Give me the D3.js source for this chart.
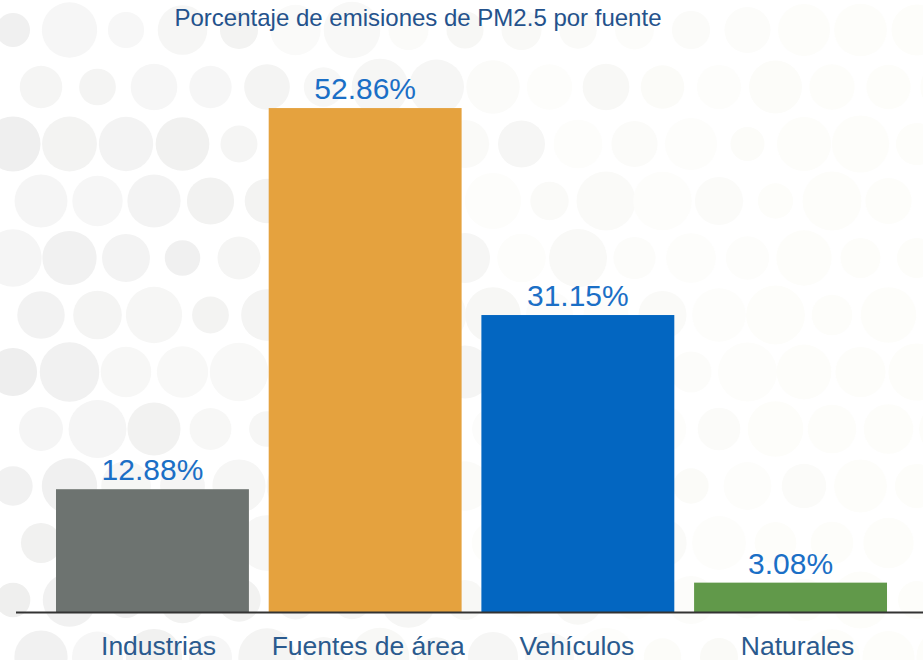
<!DOCTYPE html>
<html>
<head>
<meta charset="utf-8">
<script src="https://cdn.jsdelivr.net/npm/d3@7"></script>
<style>
  body { margin: 0; background: #ffffff; }
  svg { display: block; font-family: "Liberation Sans", Arial, sans-serif; }
</style>
</head>
<body>
<svg id="chart" width="923" height="660"></svg>
<script>
// data
const categories = ["Industrias", "Fuentes de área", "Vehículos", "Naturales"];
const values = [12.88, 52.86, 31.15, 3.08];
const valueLabels = ["12.88%", "52.86%", "31.15%", "3.08%"];
const barColors = ["#6d7370", "#e5a23e", "#0366c1", "#61994a"];
const title = "Porcentaje de emisiones de PM2.5 por fuente";

// small horizontal nudges of the category labels, as in the original
const labelNudge = [6, 3, -1, 7];

const width = 923, height = 660;
const svg = d3.select("#chart");

// background dots (decoration only)
function hash(i, j) {
    let s = Math.sin(i * 127.1 + j * 311.7) * 43758.5453;
    return s - Math.floor(s);
}
let dots = [];
for (let r = 0; r < 12; r++) {
    for (let c = 0; c < 18; c++) {
        let cx = 13 + c * 56.5 + (r % 2 ? 28 : 0);
        let cy = 30 + r * 57;
        dots.push({cx: cx, cy: cy, h: hash(r, c), h2: hash(c + 3, r + 7)});
    }
}
svg.append("g")
    .selectAll("circle")
    .data(dots)
    .join("circle")
    .attr("cx", d => d.cx)
    .attr("cy", d => d.cy)
    .attr("r", d => 17 + d.h * 13)
    .attr("fill", function (d) {
        let t = d.cx / width;
        let g = Math.min(253, 237 + t * 16 + d.h2 * 8);
        let b = Math.min(251, g - t * 3);
        return d3.rgb(g, g, b);
    });

// scales
const x = d3.scaleBand()
    .domain(categories)
    .range([46, 897])
    .paddingInner(0.093)
    .paddingOuter(0.047);

const y = d3.scaleLinear()
    .domain([0, 60])
    .range([612, 40]);

// title
svg.append("text")
    .attr("x", 418)
    .attr("y", 26)
    .attr("text-anchor", "middle")
    .attr("font-size", 24)
    .attr("fill", "#24528c")
    .text(title);

// bars
svg.append("g")
    .selectAll("rect")
    .data(values)
    .join("rect")
    .attr("x", (d, i) => x(categories[i]))
    .attr("y", d => y(d))
    .attr("width", x.bandwidth())
    .attr("height", d => y(0) - y(d))
    .attr("fill", (d, i) => barColors[i]);

// value labels
svg.append("g")
    .selectAll("text")
    .data(values)
    .join("text")
    .attr("x", (d, i) => x(categories[i]) + x.bandwidth() / 2)
    .attr("y", d => y(d) - 9)
    .attr("text-anchor", "middle")
    .attr("font-size", 30)
    .attr("fill", "#1b6fc6")
    .text((d, i) => valueLabels[i]);

// baseline axis
const axis = svg.append("g")
    .attr("transform", "translate(0," + (y(0) + 0.5) + ")")
    .call(d3.axisBottom(x).tickSize(0).tickPadding(0));
axis.select(".domain").remove();
axis.append("line")
    .attr("x1", 16)
    .attr("x2", width)
    .attr("stroke", "#333")
    .attr("stroke-width", 2);
axis.selectAll(".tick text")
    .attr("x", (d, i) => labelNudge[i])
    .attr("y", 42)
    .attr("dy", 0)
    .attr("font-size", 26.5)
    .attr("font-family", "Liberation Sans, Arial, sans-serif")
    .attr("fill", "#2a5a8e");
</script>
</body>
</html>
